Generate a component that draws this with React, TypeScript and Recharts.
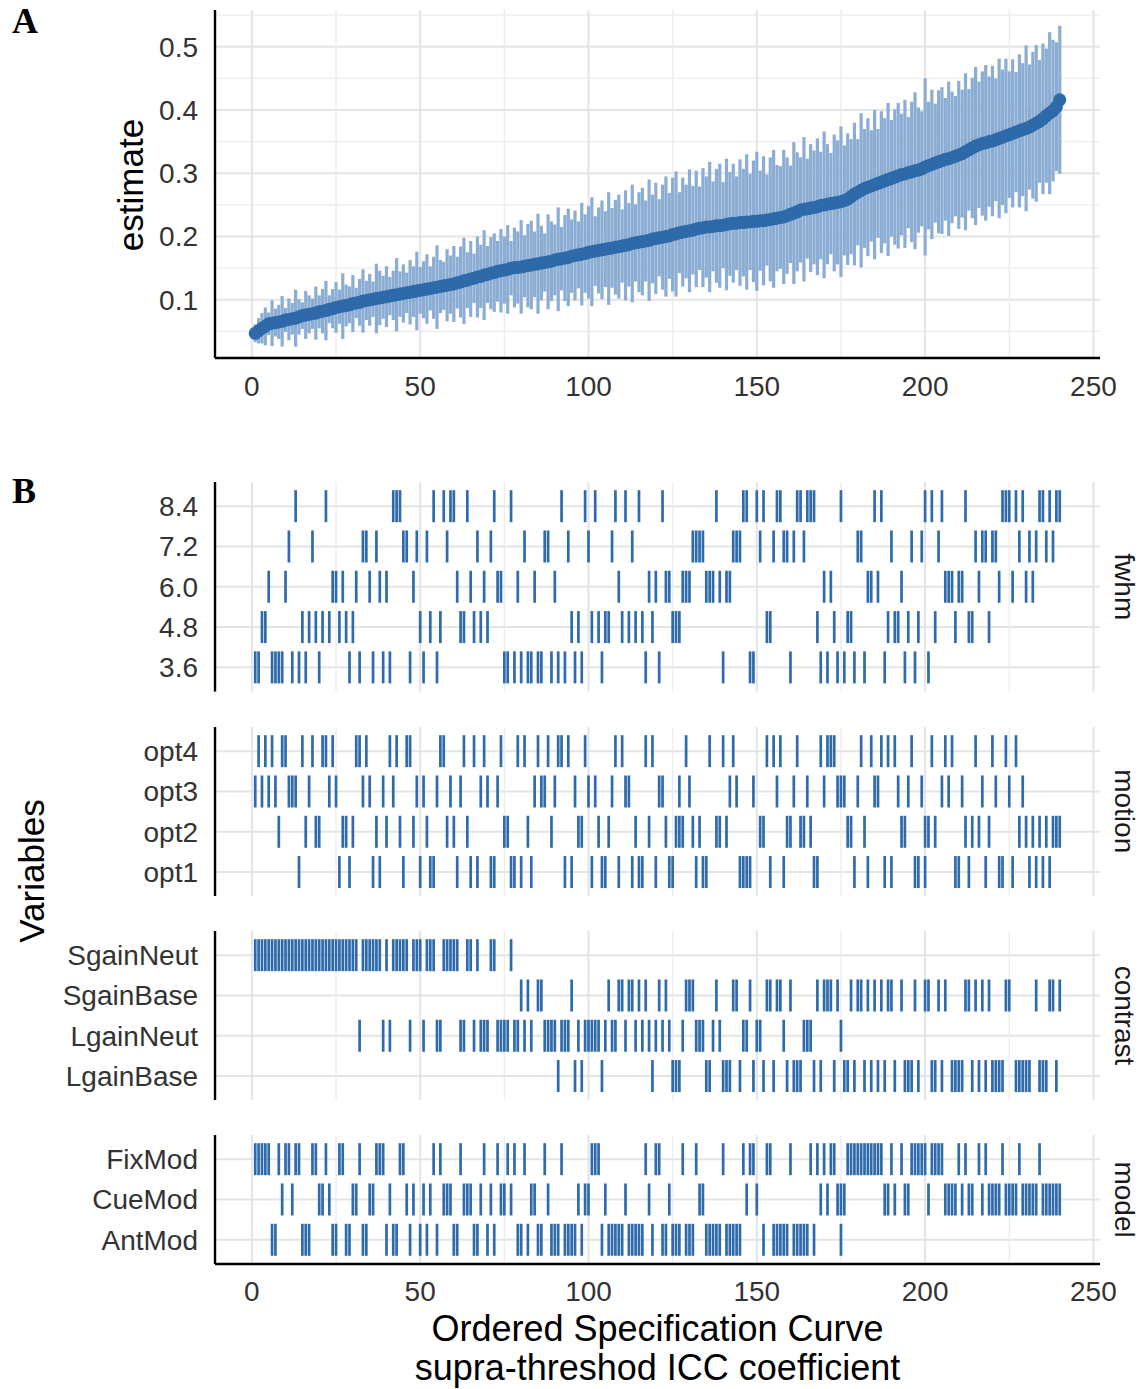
import React from "react";
import { ScatterChart, Scatter, XAxis, YAxis, ErrorBar, ReferenceLine } from "recharts";

// ICC estimate for each specification, ordered by size (rank 1..240)
const estimate = [
  0.047, 0.051, 0.055, 0.058, 0.062, 0.063, 0.064, 0.065, 0.066, 0.068, 0.069, 0.070,
  0.071, 0.073, 0.075, 0.076, 0.077, 0.078, 0.079, 0.081, 0.082, 0.083, 0.085, 0.086,
  0.088, 0.089, 0.090, 0.091, 0.092, 0.094, 0.095, 0.096, 0.098, 0.099, 0.100, 0.101,
  0.102, 0.103, 0.104, 0.105, 0.106, 0.107, 0.108, 0.109, 0.110, 0.111, 0.112, 0.113,
  0.114, 0.115, 0.116, 0.117, 0.118, 0.119, 0.120, 0.121, 0.122, 0.123, 0.124, 0.125,
  0.127, 0.128, 0.130, 0.131, 0.133, 0.134, 0.136, 0.137, 0.139, 0.140, 0.142, 0.143,
  0.145, 0.146, 0.147, 0.148, 0.150, 0.151, 0.151, 0.152, 0.153, 0.154, 0.155, 0.156,
  0.157, 0.158, 0.159, 0.160, 0.161, 0.163, 0.164, 0.165, 0.166, 0.167, 0.169, 0.170,
  0.171, 0.172, 0.173, 0.175, 0.176, 0.177, 0.178, 0.179, 0.180, 0.181, 0.182, 0.183,
  0.184, 0.185, 0.186, 0.187, 0.189, 0.190, 0.191, 0.192, 0.193, 0.194, 0.196, 0.197,
  0.198, 0.199, 0.200, 0.201, 0.203, 0.204, 0.206, 0.207, 0.208, 0.209, 0.210, 0.212,
  0.213, 0.214, 0.215, 0.215, 0.216, 0.217, 0.217, 0.218, 0.219, 0.220, 0.221, 0.221,
  0.222, 0.222, 0.223, 0.223, 0.224, 0.224, 0.225, 0.225, 0.226, 0.227, 0.228, 0.229,
  0.230, 0.231, 0.233, 0.235, 0.237, 0.239, 0.242, 0.243, 0.244, 0.245, 0.246, 0.247,
  0.249, 0.250, 0.251, 0.252, 0.253, 0.254, 0.255, 0.257, 0.259, 0.263, 0.267, 0.270,
  0.273, 0.276, 0.278, 0.280, 0.282, 0.284, 0.286, 0.288, 0.290, 0.292, 0.294, 0.296,
  0.298, 0.299, 0.301, 0.302, 0.304, 0.305, 0.307, 0.310, 0.312, 0.314, 0.316, 0.318,
  0.320, 0.322, 0.323, 0.325, 0.327, 0.329, 0.331, 0.334, 0.337, 0.340, 0.343, 0.345,
  0.347, 0.348, 0.350, 0.351, 0.353, 0.355, 0.357, 0.359, 0.361, 0.363, 0.365, 0.367,
  0.369, 0.371, 0.373, 0.376, 0.379, 0.382, 0.386, 0.391, 0.395, 0.399, 0.405, 0.416,
];

// half-width of the confidence interval around each estimate
const halfWidth = [
  0.014, 0.020, 0.024, 0.030, 0.018, 0.036, 0.022, 0.027, 0.040, 0.019, 0.033, 0.025,
  0.045, 0.028, 0.021, 0.038, 0.030, 0.024, 0.042, 0.026, 0.035, 0.047, 0.022, 0.031,
  0.040, 0.027, 0.052, 0.033, 0.029, 0.045, 0.024, 0.037, 0.050, 0.031, 0.041, 0.028,
  0.055, 0.043, 0.034, 0.048, 0.030, 0.039, 0.058, 0.036, 0.046, 0.032, 0.051, 0.040,
  0.062, 0.037, 0.045, 0.055, 0.035, 0.049, 0.066, 0.042, 0.038, 0.057, 0.046, 0.060,
  0.041, 0.056, 0.068, 0.044, 0.060, 0.039, 0.064, 0.050, 0.071, 0.045, 0.057, 0.062,
  0.048, 0.066, 0.053, 0.070, 0.043, 0.063, 0.057, 0.074, 0.049, 0.066, 0.070, 0.052,
  0.079, 0.059, 0.046, 0.075, 0.063, 0.056, 0.082, 0.050, 0.068, 0.077, 0.058, 0.071,
  0.053, 0.081, 0.062, 0.073, 0.086, 0.055, 0.068, 0.078, 0.060, 0.089, 0.063, 0.075,
  0.082, 0.058, 0.087, 0.066, 0.093, 0.061, 0.079, 0.085, 0.064, 0.096, 0.070, 0.088,
  0.061, 0.083, 0.095, 0.068, 0.090, 0.099, 0.064, 0.086, 0.074, 0.097, 0.070, 0.092,
  0.066, 0.094, 0.080, 0.103, 0.071, 0.090, 0.098, 0.068, 0.104, 0.082, 0.094, 0.074,
  0.100, 0.085, 0.107, 0.076, 0.096, 0.110, 0.079, 0.102, 0.072, 0.098, 0.109, 0.084,
  0.081, 0.106, 0.092, 0.077, 0.112, 0.094, 0.083, 0.114, 0.079, 0.101, 0.090, 0.108,
  0.085, 0.116, 0.095, 0.080, 0.108, 0.098, 0.119, 0.087, 0.104, 0.091, 0.113, 0.084,
  0.122, 0.094, 0.109, 0.088, 0.118, 0.086, 0.112, 0.099, 0.121, 0.092, 0.107, 0.115,
  0.096, 0.117, 0.088, 0.111, 0.124, 0.099, 0.091, 0.140, 0.101, 0.118, 0.094, 0.113,
  0.116, 0.097, 0.122, 0.104, 0.095, 0.117, 0.101, 0.124, 0.096, 0.111, 0.125, 0.100,
  0.114, 0.123, 0.103, 0.119, 0.097, 0.126, 0.107, 0.122, 0.100, 0.117, 0.095, 0.121,
  0.105, 0.131, 0.099, 0.116, 0.124, 0.097, 0.119, 0.106, 0.128, 0.112, 0.102, 0.117,
];

const rankTicks = [0, 50, 100, 150, 200, 250];
const rankGrid = [0, 25, 50, 75, 100, 125, 150, 175, 200, 225, 250];
const estimateTicks = [0.1, 0.2, 0.3, 0.4, 0.5];
const estimateGrid = [0.05, 0.1, 0.15, 0.2, 0.25, 0.3, 0.35, 0.4, 0.45, 0.5, 0.55];

// ranks of the specifications using each analysis choice
const fwhm84 = [13, 22, 42, 43, 44, 54, 57, 59, 60, 64, 72, 77, 92, 99, 102, 108, 111, 115, 122, 138, 146, 147, 150, 152, 156, 157, 162, 163, 165, 166, 167, 175, 185, 187, 200, 202, 205, 212, 223, 224, 225, 227, 229, 234, 235, 237, 239, 240];
const fwhm72 = [11, 18, 33, 34, 37, 45, 46, 49, 52, 58, 67, 71, 81, 87, 88, 94, 100, 107, 113, 131, 132, 133, 134, 143, 144, 145, 151, 155, 158, 159, 161, 164, 180, 181, 190, 196, 199, 204, 215, 217, 218, 220, 221, 228, 231, 233, 236, 238];
const fwhm60 = [5, 10, 24, 25, 27, 31, 35, 38, 40, 48, 61, 65, 69, 73, 74, 79, 84, 90, 109, 118, 120, 123, 124, 128, 129, 130, 135, 136, 137, 139, 141, 142, 170, 172, 183, 184, 186, 193, 206, 207, 208, 210, 211, 216, 222, 226, 230, 232];
const fwhm48 = [3, 4, 15, 17, 19, 21, 23, 26, 28, 30, 50, 53, 56, 62, 63, 66, 68, 70, 95, 97, 101, 103, 105, 106, 110, 112, 114, 116, 119, 125, 126, 127, 153, 154, 168, 173, 177, 178, 189, 191, 192, 195, 198, 203, 209, 213, 214, 219];
const fwhm36 = [1, 2, 6, 7, 8, 9, 12, 14, 16, 20, 29, 32, 36, 39, 41, 47, 51, 55, 75, 76, 78, 80, 82, 83, 85, 86, 89, 91, 93, 96, 98, 104, 117, 121, 140, 148, 149, 160, 169, 171, 174, 176, 179, 182, 188, 194, 197, 201];

const opt4 = [2, 4, 6, 9, 10, 15, 18, 21, 22, 24, 31, 32, 34, 41, 43, 46, 47, 56, 57, 63, 66, 69, 74, 79, 81, 85, 88, 91, 92, 94, 99, 108, 110, 117, 119, 129, 136, 140, 143, 153, 155, 157, 162, 169, 171, 172, 173, 181, 184, 187, 189, 191, 196, 202, 206, 208, 215, 220, 224, 227];
const opt3 = [1, 3, 5, 7, 11, 12, 13, 17, 23, 25, 33, 35, 39, 42, 49, 51, 55, 59, 62, 68, 70, 73, 84, 86, 87, 90, 96, 100, 102, 107, 111, 112, 121, 122, 127, 130, 142, 144, 149, 156, 161, 165, 170, 174, 175, 176, 180, 185, 186, 192, 195, 199, 205, 207, 211, 217, 221, 225, 229];
const opt2 = [8, 16, 19, 20, 27, 28, 30, 37, 40, 44, 48, 52, 58, 60, 64, 75, 76, 82, 89, 97, 98, 103, 106, 114, 118, 123, 126, 127, 128, 131, 133, 138, 139, 141, 151, 152, 159, 160, 163, 164, 166, 177, 178, 182, 193, 194, 200, 201, 203, 212, 214, 216, 219, 228, 230, 232, 234, 236, 238, 239, 240];
const opt1 = [14, 26, 29, 36, 38, 45, 50, 53, 54, 61, 65, 67, 71, 72, 77, 78, 80, 83, 93, 95, 101, 104, 105, 109, 113, 115, 116, 120, 124, 125, 132, 134, 135, 145, 146, 147, 148, 154, 158, 167, 168, 179, 183, 188, 190, 197, 198, 200, 209, 210, 213, 218, 222, 223, 226, 231, 233, 235, 237];

const sgainNeut = [1, 2, 3, 4, 5, 6, 7, 8, 9, 10, 11, 12, 13, 14, 15, 16, 17, 18, 19, 20, 21, 22, 23, 24, 25, 26, 27, 28, 29, 30, 31, 33, 34, 35, 36, 37, 38, 40, 42, 43, 44, 45, 46, 48, 49, 50, 52, 53, 54, 57, 58, 59, 60, 61, 64, 65, 67, 71, 72, 77];
const sgainBase = [80, 82, 85, 86, 95, 106, 109, 110, 112, 113, 115, 117, 121, 123, 129, 130, 131, 138, 143, 144, 148, 153, 154, 156, 157, 160, 168, 170, 171, 172, 174, 178, 180, 181, 183, 185, 187, 189, 190, 193, 197, 200, 201, 204, 206, 212, 213, 215, 217, 219, 224, 225, 233, 237, 238, 240];
const lgainNeut = [32, 39, 41, 47, 51, 55, 56, 62, 63, 66, 68, 69, 70, 73, 74, 75, 76, 78, 79, 81, 83, 87, 88, 89, 90, 92, 93, 94, 97, 99, 100, 101, 102, 103, 105, 107, 108, 111, 114, 116, 118, 120, 122, 124, 128, 132, 133, 134, 137, 139, 146, 147, 150, 151, 158, 164, 165, 166, 175];
const lgainBase = [91, 96, 98, 104, 119, 125, 126, 127, 135, 136, 140, 141, 142, 145, 149, 152, 155, 159, 161, 162, 163, 167, 169, 173, 176, 177, 179, 182, 184, 186, 188, 191, 194, 195, 196, 198, 202, 203, 205, 208, 209, 210, 211, 214, 216, 218, 220, 221, 222, 223, 227, 228, 229, 230, 231, 234, 235, 236, 239];

const fixMod = [1, 2, 3, 4, 5, 8, 10, 11, 13, 14, 18, 19, 22, 26, 27, 32, 37, 38, 39, 44, 45, 54, 56, 62, 69, 73, 76, 78, 81, 87, 92, 101, 102, 103, 117, 120, 121, 128, 132, 140, 146, 148, 149, 153, 154, 160, 166, 168, 170, 172, 173, 177, 178, 179, 180, 181, 182, 183, 184, 185, 186, 187, 190, 193, 196, 197, 198, 199, 200, 202, 203, 204, 205, 210, 212, 216, 218, 223, 228, 234];
const cueMod = [9, 12, 20, 21, 23, 30, 31, 35, 36, 41, 46, 48, 51, 53, 57, 58, 59, 63, 64, 65, 68, 71, 74, 75, 77, 83, 84, 88, 97, 99, 100, 105, 111, 118, 124, 133, 134, 147, 150, 169, 171, 174, 175, 176, 188, 189, 191, 194, 195, 201, 206, 207, 208, 209, 211, 213, 214, 217, 219, 220, 221, 222, 224, 225, 226, 227, 229, 230, 231, 232, 233, 235, 236, 237, 238, 239, 240];
const antMod = [6, 7, 15, 16, 17, 24, 25, 28, 29, 33, 34, 40, 42, 43, 47, 50, 52, 55, 60, 61, 66, 67, 70, 72, 79, 80, 82, 85, 86, 89, 90, 91, 93, 94, 95, 96, 98, 104, 106, 107, 108, 109, 110, 112, 113, 114, 115, 116, 119, 122, 123, 125, 126, 127, 129, 130, 131, 135, 136, 137, 138, 139, 141, 142, 143, 144, 145, 152, 155, 156, 157, 158, 159, 161, 162, 163, 164, 165, 167, 175];

type Level = { label: string; ranks: number[] };
type Facet = { name: string; levels: Level[] };

const facets: Facet[] = [
  {
    name: "fwhm",
    levels: [
      { label: "8.4", ranks: fwhm84 },
      { label: "7.2", ranks: fwhm72 },
      { label: "6.0", ranks: fwhm60 },
      { label: "4.8", ranks: fwhm48 },
      { label: "3.6", ranks: fwhm36 },
    ],
  },
  {
    name: "motion",
    levels: [
      { label: "opt4", ranks: opt4 },
      { label: "opt3", ranks: opt3 },
      { label: "opt2", ranks: opt2 },
      { label: "opt1", ranks: opt1 },
    ],
  },
  {
    name: "contrast",
    levels: [
      { label: "SgainNeut", ranks: sgainNeut },
      { label: "SgainBase", ranks: sgainBase },
      { label: "LgainNeut", ranks: lgainNeut },
      { label: "LgainBase", ranks: lgainBase },
    ],
  },
  {
    name: "model",
    levels: [
      { label: "FixMod", ranks: fixMod },
      { label: "CueMod", ranks: cueMod },
      { label: "AntMod", ranks: antMod },
    ],
  },
];

const specs = estimate.map((e, i) => ({ rank: i + 1, estimate: e, hw: halfWidth[i] }));

const FONT = "'Liberation Sans', Arial, Helvetica, sans-serif";
const W = 1144;
const MARGIN = { left: 155, right: 44 };
const Y_AXIS_W = 60;
const RANK_DOMAIN: [number, number] = [-10.95, 251.95];
const ROW = 40.3;
const FACET_GAP = 35;
const FACET_TOP = 482;
const X_AXIS_H = 52;

const axisLine = { stroke: "#000", strokeWidth: 2.4 };
const tickStyle = { fontSize: 28, fill: "#333", fontFamily: FONT };
const gridMajor = { stroke: "#e4e4e4", strokeWidth: 2 };
const gridMinor = { stroke: "#ececec", strokeWidth: 1.3 };

const EstimateDot = (props: any) => <circle cx={props.cx} cy={props.cy} r={6.5} fill="#2e6aa9" />;
const ChoiceTick = (props: any) => (
  <rect x={props.cx - 1.35} y={props.cy - 16} width={2.7} height={32} fill="#2f6bab" />
);
const Nothing = () => <g />;

function CurvePanel() {
  return (
    <ScatterChart width={W} height={420} margin={{ top: 10, right: MARGIN.right, bottom: 10, left: MARGIN.left }}>
      {estimateGrid.map((v, i) => (
        <ReferenceLine key={"h" + v} y={v} {...(i % 2 === 1 ? gridMajor : gridMinor)} />
      ))}
      {rankGrid.map((v, i) => (
        <ReferenceLine key={"v" + v} x={v} {...(i % 2 === 0 ? gridMajor : gridMinor)} />
      ))}
      <XAxis
        type="number"
        dataKey="rank"
        domain={RANK_DOMAIN}
        ticks={rankTicks}
        interval={0}
        allowDataOverflow
        height={X_AXIS_H}
        tickLine={false}
        tickMargin={12}
        axisLine={axisLine}
        tick={tickStyle}
      />
      <YAxis
        type="number"
        dataKey="estimate"
        domain={[0.008, 0.558]}
        ticks={estimateTicks}
        interval={0}
        allowDataOverflow
        width={Y_AXIS_W}
        tickLine={false}
        tickMargin={11}
        axisLine={axisLine}
        tick={tickStyle}
      />
      <Scatter data={specs} shape={Nothing} isAnimationActive={false}>
        <ErrorBar dataKey="hw" direction="y" width={0} stroke="#8badd3" strokeWidth={3.2} isAnimationActive={false} />
      </Scatter>
      <Scatter data={specs} shape={EstimateDot} isAnimationActive={false} />
    </ScatterChart>
  );
}

function FacetPanel({ facet, showAxis }: { facet: Facet; showAxis: boolean }) {
  const n = facet.levels.length;
  const plotH = (n + 0.2) * ROW;
  const rows = facet.levels.map((_, k) => n - k);
  const points = facet.levels.flatMap((lvl, k) => lvl.ranks.map((r) => ({ rank: r, row: n - k })));
  return (
    <ScatterChart
      width={W}
      height={plotH + (showAxis ? X_AXIS_H + 10 : 0)}
      margin={{ top: 0, right: MARGIN.right, bottom: showAxis ? 10 : 0, left: MARGIN.left }}
    >
      {rows.map((v) => (
        <ReferenceLine key={"h" + v} y={v} {...gridMajor} />
      ))}
      {rankGrid.map((v, i) => (
        <ReferenceLine key={"v" + v} x={v} {...(i % 2 === 0 ? gridMajor : gridMinor)} />
      ))}
      <XAxis
        type="number"
        dataKey="rank"
        domain={RANK_DOMAIN}
        ticks={rankTicks}
        interval={0}
        allowDataOverflow
        hide={!showAxis}
        height={X_AXIS_H}
        tickLine={false}
        tickMargin={11}
        axisLine={axisLine}
        tick={tickStyle}
      />
      <YAxis
        type="number"
        dataKey="row"
        domain={[0.4, n + 0.6]}
        ticks={rows}
        interval={0}
        allowDataOverflow
        width={Y_AXIS_W}
        tickLine={false}
        tickMargin={11}
        axisLine={axisLine}
        tick={tickStyle}
        tickFormatter={(v: number) => facet.levels[n - v]?.label ?? ""}
      />
      <Scatter data={points} shape={ChoiceTick} isAnimationActive={false} />
    </ScatterChart>
  );
}

export default function App() {
  let top = FACET_TOP;
  const placed = facets.map((f) => {
    const h = (f.levels.length + 0.2) * ROW;
    const p = { facet: f, top, h };
    top += h + FACET_GAP;
    return p;
  });
  const plotCenterX = (MARGIN.left + Y_AXIS_W + (W - MARGIN.right)) / 2;

  return (
    <div style={{ position: "absolute", left: 0, top: 0, width: W, height: 1389, background: "#fff", fontFamily: FONT }}>
      <div style={{ position: "absolute", left: 0, top: 0 }}>
        <CurvePanel />
      </div>
      {placed.map((p, i) => (
        <div key={p.facet.name} style={{ position: "absolute", left: 0, top: p.top }}>
          <FacetPanel facet={p.facet} showAxis={i === placed.length - 1} />
        </div>
      ))}
      <svg width={W} height={1389} style={{ position: "absolute", left: 0, top: 0, pointerEvents: "none" }}>
        <text x={12} y={33} fontFamily="'Liberation Serif', 'Times New Roman', serif" fontWeight="bold" fontSize={36}>
          A
        </text>
        <text x={12} y={503} fontFamily="'Liberation Serif', 'Times New Roman', serif" fontWeight="bold" fontSize={36}>
          B
        </text>
        <text transform="translate(143,185) rotate(-90)" textAnchor="middle" fontSize={35} fontFamily={FONT} fill="#000">
          estimate
        </text>
        <text transform="translate(44,871) rotate(-90)" textAnchor="middle" fontSize={35} fontFamily={FONT} fill="#000">
          Variables
        </text>
        {placed.map((p) => (
          <text
            key={p.facet.name}
            transform={`translate(1115,${p.top + p.h / 2}) rotate(90)`}
            textAnchor="middle"
            fontSize={28}
            fontFamily={FONT}
            fill="#1a1a1a"
          >
            {p.facet.name}
          </text>
        ))}
        <text x={plotCenterX} y={1341} textAnchor="middle" fontSize={36} fontFamily={FONT} fill="#000">
          Ordered Specification Curve
        </text>
        <text x={plotCenterX} y={1380} textAnchor="middle" fontSize={36} fontFamily={FONT} fill="#000">
          supra-threshod ICC coefficient
        </text>
      </svg>
    </div>
  );
}
